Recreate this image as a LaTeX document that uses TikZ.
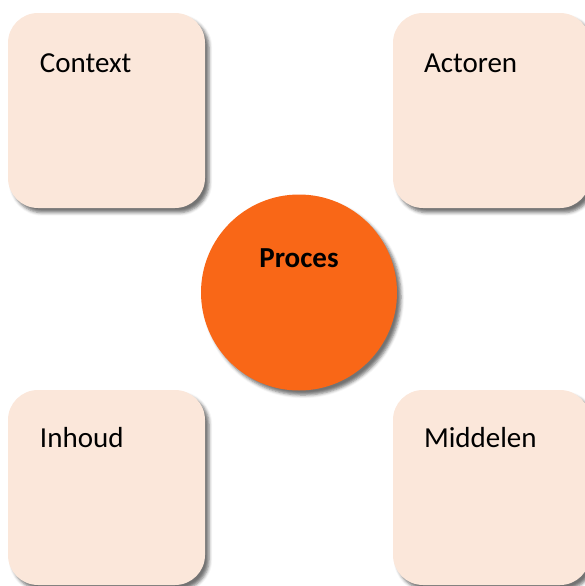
\documentclass[tikz,border=0pt]{standalone}
\usepackage{fontspec}
\setmainfont{Carlito}
\usepackage{tikz}
\usetikzlibrary{calc, positioning, shadows.blur}
\definecolor{peach}{HTML}{FBE7DA}
\definecolor{procesorange}{HTML}{F96717}
\tikzset{
	block/.style={fill=peach, rounded corners=0.6cm, minimum width=3.94cm, minimum height=3.9cm, inner sep=0pt,
		blur shadow={shadow xshift=2.3pt, shadow yshift=-2.6pt, shadow blur radius=1.8pt, shadow opacity=55}},
	kern/.style={circle, fill=procesorange, minimum size=3.92cm, inner sep=0pt,
		blur shadow={shadow xshift=2.3pt, shadow yshift=-2.6pt, shadow blur radius=1.8pt, shadow opacity=55}},
	lbl/.style={font=\fontsize{16.5}{19}\selectfont, inner sep=0pt}
}

\begin{document}
\begin{tikzpicture}
			\useasboundingbox (0,0) rectangle (11.7,-11.72);
			\clip (0,0) rectangle (11.7,-11.72);
			\node [block] (context) at (2.13,-2.21) {};
			\node [block] (actoren) at (9.83,-2.21) {};
			\node [block] (inhoud) at (2.13,-9.75) {};
			\node [block] (middelen) at (9.83,-9.75) {};
			\node [kern] (proces) at (5.98,-5.85) {};
			\node [lbl, anchor=base west] (contexttxt) at ($(context.north west)+(0.64,-1.2)$) {Context};
			\node [lbl, anchor=base west] (actorentxt) at ($(actoren.north west)+(0.62,-1.2)$) {Actoren};
			\node [lbl, anchor=base west] (inhoudtxt) at ($(inhoud.north west)+(0.64,-1.15)$) {Inhoud};
			\node [lbl, anchor=base west] (middelentxt) at ($(middelen.north west)+(0.62,-1.15)$) {Middelen};
			\node [lbl, anchor=base, font=\fontsize{16.5}{19}\selectfont\bfseries] (procestxt) at ($(proces.center)+(0,0.51)$) {Proces};
		\end{tikzpicture}
\end{document}
